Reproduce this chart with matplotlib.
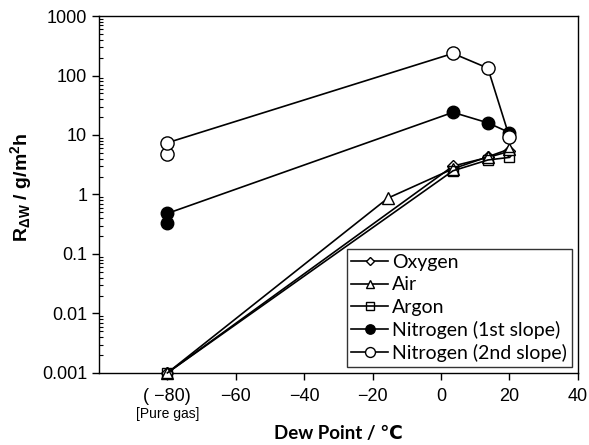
import matplotlib.pyplot as plt
from matplotlib.ticker import LogLocator, NullFormatter, FixedLocator

plt.rcParams['font.family'] = ['Liberation Sans', 'DejaVu Sans']
plt.rcParams['mathtext.fontset'] = 'custom'
plt.rcParams['mathtext.rm'] = 'Liberation Sans'
plt.rcParams['mathtext.bf'] = 'Liberation Sans:bold'

# dew point (degC) and rate R_dW (g/m2h)
oxygen_x = [-80, 3.5, 13.7, 20]
oxygen_y = [0.001, 3.0, 4.2, 5.3]
air_x = [-80, -15.5, 3.5, 13.7, 20]
air_y = [0.001, 0.87, 2.7, 4.3, 5.8]
argon_x = [-80, 3.5, 13.7, 20]
argon_y = [0.001, 2.5, 3.8, 4.2]
n1_x = [-80, -80, 3.5, 13.7, 20]
n1_y = [0.33, 0.48, 24, 16, 11]
n2_x = [-80, -80, 3.5, 13.7, 20]
n2_y = [4.8, 7.4, 235, 133, 9.3]

xticks = [-80, -60, -40, -20, 0, 20, 40]
xticklabels = ['( \u221280)', '\u221260', '\u221240', '\u221220', '0', '20', '40']
yticks = [0.001, 0.01, 0.1, 1, 10, 100, 1000]
yticklabels = ['0.001', '0.01', '0.1', '1', '10', '100', '1000']

fig = plt.figure(figsize=(5.89, 4.45), dpi=100)
ax = fig.add_axes([0.168, 0.162, 0.813, 0.802])

lw = 1.2
common = dict(color='black', lw=lw, mec='black', mew=1, clip_on=False)
ax.plot(oxygen_x, oxygen_y, marker='D', ms=6, mfc='white', label='Oxygen', zorder=3, **common)
ax.plot(air_x, air_y, marker='^', ms=8, mfc='white', label='Air', zorder=3, **common)
ax.plot(argon_x, argon_y, marker='s', ms=7, mfc='none', label='Argon', zorder=3, **common)
ax.plot(n1_x, n1_y, marker='o', ms=9, mfc='black', label='Nitrogen (1st slope)', zorder=4, **common)
ax.plot(n2_x, n2_y, marker='o', ms=9.5, mfc='white', label='Nitrogen (2nd slope)', zorder=4, **common)

ax.set_yscale('log')
ax.set_xlim(-100, 40)
ax.set_ylim(0.001, 1000)
ax.xaxis.set_major_locator(FixedLocator(xticks))
ax.set_xticklabels(xticklabels)
ax.set_yticks(yticks)
ax.set_yticklabels(yticklabels)
ax.yaxis.set_minor_locator(LogLocator(base=10, subs=range(2, 10), numticks=20))
ax.yaxis.set_minor_formatter(NullFormatter())

ax.tick_params(axis='both', which='major', labelsize=13, direction='out', length=5, width=1)
ax.tick_params(axis='x', which='major', pad=6)
ax.tick_params(axis='y', which='minor', direction='in', length=3, width=0.8)
ax.tick_params(axis='x', which='minor', bottom=False)
for s in ax.spines.values():
    s.set_linewidth(1)

ax.text(-80, -0.095, '[Pure gas]', transform=ax.get_xaxis_transform(),
        ha='center', va='top', fontsize=10)

ax.set_xlabel('Dew Point / \u2103', fontsize=13.5, fontweight='bold',
              family=['Lato', 'DejaVu Sans'], labelpad=14)
ax.set_ylabel(r'$\mathbf{R_{\Delta W}}$ / g/m$\mathbf{^2}$h', fontsize=14, fontweight='bold')
ax.yaxis.set_label_coords(-0.135, 0.52)

leg = ax.legend(loc='lower right', prop={'family': 'Lato', 'size': 14},
                frameon=True, fancybox=False, edgecolor='black',
                borderaxespad=0.3, handlelength=1.9, handletextpad=0.2,
                labelspacing=0.27, borderpad=0.25, markerscale=0.75)
leg.get_frame().set_linewidth(1)

fig.savefig('out.png', dpi=100)
